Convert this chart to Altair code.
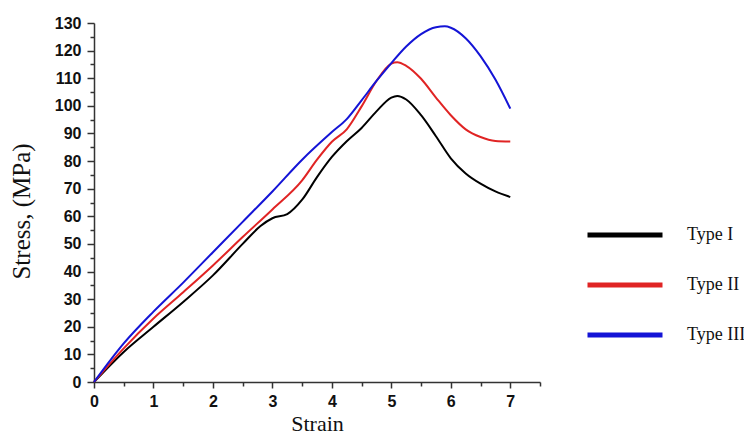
import altair as alt
import pandas as pd

# Data
type1_x = [0, 0.5, 1, 1.5, 2, 2.5, 2.8, 3.0, 3.25, 3.5, 3.75, 4, 4.25, 4.5, 4.75, 5, 5.1, 5.25, 5.5, 5.75, 6, 6.25, 6.5, 6.75, 7]
type1_y = [0, 10.9, 20, 29, 38.6, 50, 56.5, 59.3, 60.8, 66, 74.2, 81.5, 87.2, 92, 98, 103, 103.6, 102.3, 96.6, 89, 81, 75.5, 71.8, 69, 67]

type2_x = [0, 0.5, 1, 1.5, 2, 2.5, 3, 3.5, 3.75, 4, 4.25, 4.5, 4.75, 5, 5.1, 5.25, 5.5, 5.75, 6, 6.25, 6.5, 6.75, 7]
type2_y = [0, 12.2, 23, 32.5, 42.2, 52.5, 62.5, 73, 80.5, 87, 91.5, 99.8, 109, 115.3, 115.8, 114.5, 109.8, 103, 96.6, 91.5, 88.7, 87.3, 87.1]

type3_x = [0, 0.5, 1, 1.5, 2, 2.5, 3, 3.5, 4, 4.25, 4.5, 4.75, 5, 5.25, 5.5, 5.75, 5.9, 6, 6.25, 6.5, 6.75, 7]
type3_y = [0, 14, 25.5, 36, 47, 58, 69, 80.5, 90.5, 95.2, 102, 109, 115.5, 121.5, 126, 128.5, 128.8, 128.3, 124.5, 118, 109.5, 99]

series_names = ["Type I", "Type II", "Type III"]
series_colors = ["#000000", "#E02424", "#1414D6"]

x_ticks = [i * 0.5 for i in range(16)]
y_ticks = [i * 5 for i in range(27)]

rows = []
for name, xs, ys in zip(series_names, [type1_x, type2_x, type3_x], [type1_y, type2_y, type3_y]):
    for i, (a, b) in enumerate(zip(xs, ys)):
        rows.append({"Series": name, "Strain": a, "Stress": b, "order": i})
df = pd.DataFrame(rows)

chart = alt.Chart(df).mark_line(strokeWidth=2, interpolate="monotone").encode(
    x=alt.X("Strain:Q",
            scale=alt.Scale(domain=[0, 7.5], nice=False, zero=False),
            axis=alt.Axis(
                title="Strain", values=x_ticks, grid=False, labelFlush=False,
                labelExpr="datum.value % 1 === 0 ? format(datum.value, 'd') : ''",
                tickSize={"condition": {"test": "datum.value % 1 === 0", "value": 6}, "value": 4},
                labelPadding=5, labelFont="Liberation Sans", labelFontWeight="bold",
                labelFontSize=16, labelColor="#111111",
                titleFont="Liberation Serif", titleFontSize=22, titleFontWeight="normal",
                titleColor="#111111", titleBaseline="alphabetic", titleY=48,
                domainColor="#333333", domainWidth=1.5, tickColor="#333333", tickWidth=1.5,
            )),
    y=alt.Y("Stress:Q",
            scale=alt.Scale(domain=[0, 130], nice=False),
            axis=alt.Axis(
                title="Stress, (MPa)", values=y_ticks, grid=False, labelFlush=False,
                labelExpr="datum.value % 10 === 0 ? format(datum.value, 'd') : ''",
                tickSize={"condition": {"test": "datum.value % 10 === 0", "value": 7}, "value": 4},
                labelPadding=6, labelFont="Liberation Sans", labelFontWeight="bold",
                labelFontSize=16, labelColor="#111111",
                titleFont="Liberation Serif", titleFontSize=25, titleFontWeight="normal",
                titleColor="#111111", titleAngle=-90, titleBaseline="bottom",
                titleX=-60, titleY=188,
                domainColor="#333333", domainWidth=1.5, tickColor="#333333", tickWidth=1.5,
            )),
    color=alt.Color("Series:N",
                    scale=alt.Scale(domain=series_names, range=series_colors),
                    legend=alt.Legend(
                        title=None, orient="none", legendX=491, legendY=172,
                        symbolType="stroke", symbolSize=5625, symbolStrokeWidth=5,
                        labelFont="Liberation Serif", labelFontSize=18, labelColor="#111111",
                        labelOffset=22, rowPadding=-5,
                    )),
    order="order:Q",
).properties(
    width=446, height=359,
    padding={"left": 86, "top": 15, "right": 204, "bottom": 53},
    autosize=alt.AutoSizeParams(type="none"),
    background="white",
).configure_view(stroke=None)

chart.save("out.html", embed_options={"renderer": "svg", "actions": False})
